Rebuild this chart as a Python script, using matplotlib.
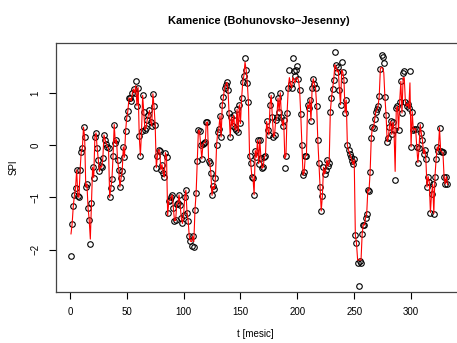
import numpy as np
import matplotlib as mp
import matplotlib.pyplot as pp

config={
'font.family':['Liberation Sans','DejaVu Sans'],
'font.size':7,
'xtick.direction':'out',
'ytick.direction':'out',
'xtick.major.size':5,
'ytick.major.size':5,
'xtick.major.width':0.8,
'ytick.major.width':0.8,
'axes.linewidth':0.9,
}
mp.rcParams.update(**config)

# monthly SPI, observed (circles)
spi_obs=[
-2.12, -1.51, -1.17, -0.96, -0.82, -0.47, -0.98, -1.0, -0.47, -0.12,
-0.05, 0.35, 0.16, -0.8, -0.74, -1.2, -1.43, -1.9, -1.1, -0.42,
-0.62, 0.16, 0.24, -0.05, -0.28, -0.5, -0.4, -0.42, -0.24, 0.2,
0.11, 0.03, -0.03, -0.05, -1.0, -0.82, -0.65, -0.2, 0.4, 0.04,
0.11, -0.29, -0.47, -0.8, -0.63, -0.5, -0.03, -0.23, 0.27, 0.53,
0.66, 0.91,
0.9, 0.85, 1.01, 1.08, 1.01, 1.24, 0.76, 1.11, 0.18, -0.2,
0.27, 0.96, 0.64, 0.3, 0.33, 0.49, 0.58, 0.67, 0.45, 0.37,
0.99, 0.75, 0.4, -0.43, -0.2, -0.08, -0.1, -0.47, -0.37, -0.53,
-0.61, -0.14, -0.22, -1.29, -1.07, -1.05, -1.0, -0.95, -1.2, -1.45,
-1.44, -1.12, -1.1, -0.95, -1.15, -1.4, -1.5, -1.34, -1.0, -0.86,
-1.29, -1.45, -1.75, -1.84, -1.94,
-1.75, -1.96, -1.24, -0.92, -0.31, 0.29, 0.28, 0.0, -0.26, 0.02,
0.05, 0.06, 0.44, 0.45, -0.3, -0.33, -0.54, -0.96, -0.79, -0.83,
-0.62, 0.0, 0.25, 0.32, 0.57, 0.16, 0.78, 0.92, 1.11, 1.16,
1.21, 1.07, 0.63, 0.16, 0.54, 0.37, 0.58, 0.33, 0.29, 0.69,
0.26, 0.78, 0.42, 0.9, 1.21, 1.34, 1.68, 1.45, 1.2, 0.83,
-0.2, -0.33, -0.6, -0.62, -0.95, -0.1, -0.23, 0.1,
-0.35, 0.11, -0.24, -0.44, -0.42, -0.22, -0.2, 0.46, 0.3, 0.2,
0.78, 0.96, 0.54, 0.16, 0.2, 0.49, 0.54, 0.91, 0.65, 1.01,
0.55, 0.38, 0.49, -0.44, -0.21, 0.62, 1.1, 1.44, 1.18, 1.1,
1.68, 1.43, 1.33, 1.44, 1.52, 1.28, 1.07, 0.6, 0.0, -0.57,
-0.52, -0.2, -0.2, 0.78, 0.72, 0.88, 0.47, 1.1, 1.28, 1.18,
1.1, 0.76, 0.1, -0.33, -0.8, -1.26, -0.98, -0.42, -0.55,
-0.47, -0.28, -0.4, -0.33, 0.65, 0.9, 1.09, 1.26, 1.8, 1.54,
1.41, 1.5, 1.07, 0.78, 1.61, 1.4, 1.25, 0.62, 0.87, 0.0,
-0.09, -0.16, -0.22, -0.3, -0.36, -0.27, -1.72, -1.88, -2.25, -2.7,
-2.22, -2.25, -1.7, -1.52, -1.53, -1.39, -1.31, -0.85, -0.88, -0.51,
0.14, 0.35, 0.33, 0.5, 0.65, 0.69, 0.76, 0.94, 1.47, 1.73,
1.7, 1.59, 0.92, 0.59, 0.07, 0.15, 0.36, 0.46,
0.21, 0.45, 0.29, -0.67, 0.71, 0.75, 0.29, 0.84, 1.23, 0.62,
1.39, 1.42, 0.84, 0.75, 0.8, 0.71, 1.42, -0.03, 0.65, 0.29,
0.32, 0.32, -0.03, -0.33, -0.06, 0.4, 0.23, 0.1, -0.16, -0.08,
-0.27, -0.8, -0.6, -0.71, -1.29, -0.93, -0.75, -1.31, -0.6, -0.27,
-0.03, -0.1, 0.34, -0.1, -0.13, -0.13, -0.6, -0.74, -0.6, -0.75,
]

# modelled SPI (red line)
spi_fit=[
-1.7, -1.51, -1.17, -0.96, -0.82, -0.47, -0.98, -1.0, -0.47, -0.12,
-0.05, 0.35, 0.16, -0.8, -0.74, -1.2, -1.43, -1.8, -1.1, -0.42,
-0.62, 0.16, 0.24, -0.05, -0.28, -0.5, -0.4, -0.42, -0.24, 0.2,
0.11, 0.03, -0.03, -0.05, -1.0, -0.82, -0.65, -0.2, 0.4, 0.04,
0.11, -0.29, -0.47, -0.8, -0.63, -0.5, -0.03, -0.23, 0.27, 0.53,
0.66, 0.91,
0.9, 0.85, 1.01, 1.08, 1.01, 1.15, 0.76, 1.11, 0.18, -0.2,
0.27, 0.96, 0.64, 0.3, 0.33, 0.49, 0.58, 0.67, 0.45, 0.37,
0.99, 0.75, 0.4, -0.43, -0.2, -0.08, -0.1, -0.47, -0.37, -0.53,
-0.61, -0.14, -0.22, -1.35, -1.07, -1.05, -1.0, -0.95, -1.2, -1.45,
-1.44, -1.12, -1.1, -0.95, -1.15, -1.4, -1.5, -1.34, -1.0, -0.86,
-1.29, -1.45, -1.75, -1.84, -1.85,
-1.75, -1.85, -1.24, -0.92, -0.31, 0.29, 0.28, 0.0, -0.26, 0.02,
0.05, 0.06, 0.44, 0.45, -0.3, -0.33, -0.54, -0.96, -0.79, -0.83,
-0.62, 0.0, 0.25, 0.32, 0.57, 0.16, 0.78, 0.92, 1.11, 1.16,
1.21, 1.07, 0.63, 0.16, 0.54, 0.37, 0.58, 0.33, 0.29, 0.69,
0.26, 0.78, 0.42, 0.9, 1.21, 1.34, 1.6, 1.45, 1.2, 0.83,
-0.2, -0.33, -0.6, -0.62, -0.95, -0.1, -0.23, 0.1,
-0.35, 0.11, -0.24, -0.44, -0.42, -0.22, -0.2, 0.46, 0.3, 0.2,
0.78, 0.96, 0.54, 0.16, 0.2, 0.49, 0.54, 0.91, 0.65, 1.01,
0.55, 0.38, 0.49, -0.25, -0.2, 0.62, 1.1, 1.3, 1.18, 1.1,
1.3, 1.25, 1.2, 1.3, 1.3, 1.25, 1.07, 0.6, 0.0, -0.57,
-0.52, -0.2, -0.2, 0.78, 0.72, 0.88, 0.47, 1.1, 1.28, 1.18,
1.1, 0.76, 0.1, -0.33, -0.8, -1.26, -0.98, -0.42, -0.55,
-0.47, -0.28, -0.4, -0.33, 0.65, 0.9, 1.09, 1.26, 1.55, 1.5,
1.41, 1.45, 1.07, 0.78, 1.45, 1.4, 1.25, 0.62, 0.87, 0.0,
-0.09, -0.16, -0.22, -0.3, -0.36, -0.27, -1.72, -1.88, -2.2, -2.2,
-2.2, -2.2, -1.7, -1.52, -1.53, -1.39, -1.31, -0.85, -0.88, -0.51,
0.14, 0.35, 0.33, 0.5, 0.65, 0.69, 0.76, 0.94, 1.47, 1.5,
1.48, 1.4, 0.92, 0.59, 0.07, 0.15, 0.36, 0.46,
0.21, 0.45, 0.29, -0.5, 0.71, 0.75, 0.29, 0.84, 1.23, 0.62,
1.3, 1.3, 0.84, 0.75, 0.8, 0.71, 1.2, -0.03, 0.65, 0.29,
0.32, 0.32, -0.03, -0.33, -0.06, 0.4, 0.23, 0.1, -0.16, -0.08,
-0.27, -0.8, -0.6, -0.71, -1.29, -0.93, -0.75, -1.31, -0.6, -0.27,
-0.03, -0.1, 0.34, -0.1, -0.13, -0.13, -0.6, -0.74, -0.6, -0.75,
]

t=np.arange(1, len(spi_obs)+1)
xticks=[0,50,100,150,200,250,300]
yticks=[-2,-1,0,1]

fig=pp.figure(figsize=(4.57,3.43), dpi=100)
# frame runs off the right edge of the image
ax=fig.add_axes([0.1225, 0.1496, 0.8895, 0.7242])

ax.plot(t, spi_obs, lw=0, marker='o', ms=4.0, mfc='none', mec='black', mew=0.8, zorder=2)
ax.plot(t, spi_fit, color='red', lw=0.8, zorder=3)

ax.set_xlim(-12.2, 345.2)
ax.set_ylim(-2.81, 1.96)
ax.set_xticks(xticks)
ax.set_yticks(yticks)
ax.set_yticklabels([('\u2212%d' % -v) if v<0 else '%d' % v for v in yticks],
                   rotation=90, va='center')
ax.tick_params(axis='x', pad=6)
ax.tick_params(axis='y', pad=6)
for s in ax.spines.values():
    s.set_color('#444444')
ax.spines['right'].set_visible(False)

ax.set_title('Kamenice (Bohunovsko\u2013Jesenny)', fontsize=8, fontweight='bold', pad=14)
ax.set_xlabel('t [mesic]')
ax.set_ylabel('SPI')
ax.xaxis.set_label_coords(0.49, -0.150)
ax.yaxis.set_label_coords(-0.093, 0.5)

fig.savefig('out.png', dpi=100)
